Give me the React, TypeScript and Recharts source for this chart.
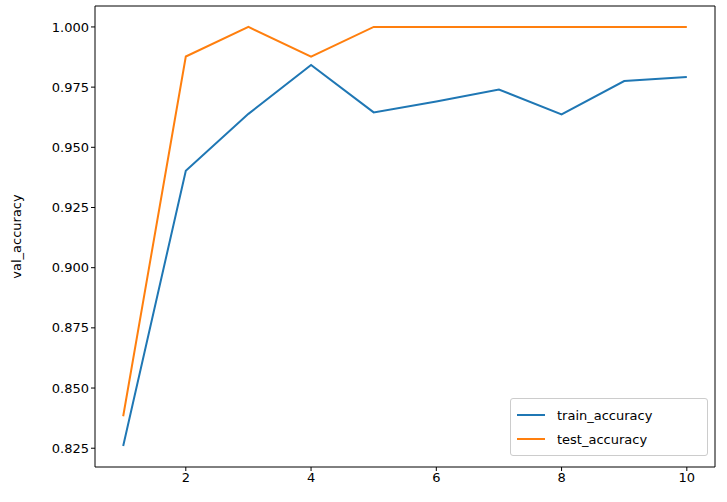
import { LineChart, Line, XAxis, YAxis, ReferenceArea, Legend } from 'recharts';

const epochs = [1, 2, 3, 4, 5, 6, 7, 8, 9, 10];
const trainAccuracy = [0.8259, 0.9403, 0.9639, 0.9842, 0.9645, 0.969, 0.974, 0.9637, 0.9775, 0.9792];
const testAccuracy = [0.8383, 0.9877, 1.0, 0.9877, 1.0, 1.0, 1.0, 1.0, 1.0, 1.0];
const yTicks = [0.825, 0.85, 0.875, 0.9, 0.925, 0.95, 0.975, 1.0];
const xTicks = [2, 4, 6, 8, 10];

const data = epochs.map((e, i) => ({ epoch: e, train: trainAccuracy[i], test: testAccuracy[i] }));

const font = 'DejaVu Sans, sans-serif';
const X_DOMAIN: [number, number] = [0.55, 10.45];
const Y_DOMAIN: [number, number] = [0.8172, 1.0087];

function LegendBox() {
  const items = [
    { name: 'train_accuracy', color: '#1f77b4' },
    { name: 'test_accuracy', color: '#ff7f0e' },
  ];
  return (
    <div
      style={{
        position: 'absolute', left: 510, top: 398, width: 184, padding: '4px 6px',
        border: '1px solid #ccc', borderRadius: 3, background: 'rgba(255,255,255,0.8)',
        fontFamily: font, fontSize: 13,
      }}
    >
      {items.map((it) => (
        <div key={it.name} style={{ display: 'flex', alignItems: 'center', height: 24 }}>
          <span style={{ width: 28, height: 2, background: it.color, marginRight: 12 }} />
          <span>{it.name}</span>
        </div>
      ))}
    </div>
  );
}

export default function App() {
  return (
    <div style={{ position: 'absolute', left: 0, top: 0, width: 727, height: 502, background: '#fff' }}>
      <LineChart width={727} height={502} data={data} margin={{ top: 6, right: 12, bottom: 0, left: 0 }}>
        <XAxis
          dataKey="epoch" type="number" domain={X_DOMAIN} ticks={xTicks} height={35}
          axisLine={false} tickSize={4} tickLine={{ stroke: '#000' }}
          tick={{ fill: '#000', fontSize: 13, fontFamily: font }} allowDataOverflow
        />
        <YAxis
          type="number" domain={Y_DOMAIN} ticks={yTicks} width={95} allowDataOverflow
          axisLine={false} tickSize={4} tickLine={{ stroke: '#000' }}
          tickFormatter={(v: number) => v.toFixed(3)}
          tick={{ fill: '#000', fontSize: 13, fontFamily: font }}
          label={{ value: 'val_accuracy', angle: -90, position: 'insideLeft', offset: 16, style: { fill: '#000', fontSize: 13, fontFamily: font, textAnchor: 'middle' } }}
        />
        <ReferenceArea x1={X_DOMAIN[0]} x2={X_DOMAIN[1]} y1={Y_DOMAIN[0]} y2={Y_DOMAIN[1]} fill="none" stroke="#000" strokeWidth={1} ifOverflow="visible" />
        <Line dataKey="train" stroke="#1f77b4" strokeWidth={2} dot={false} isAnimationActive={false} type="linear" />
        <Line dataKey="test" stroke="#ff7f0e" strokeWidth={2} dot={false} isAnimationActive={false} type="linear" />
        <Legend content={() => null} />
      </LineChart>
      <LegendBox />
    </div>
  );
}
